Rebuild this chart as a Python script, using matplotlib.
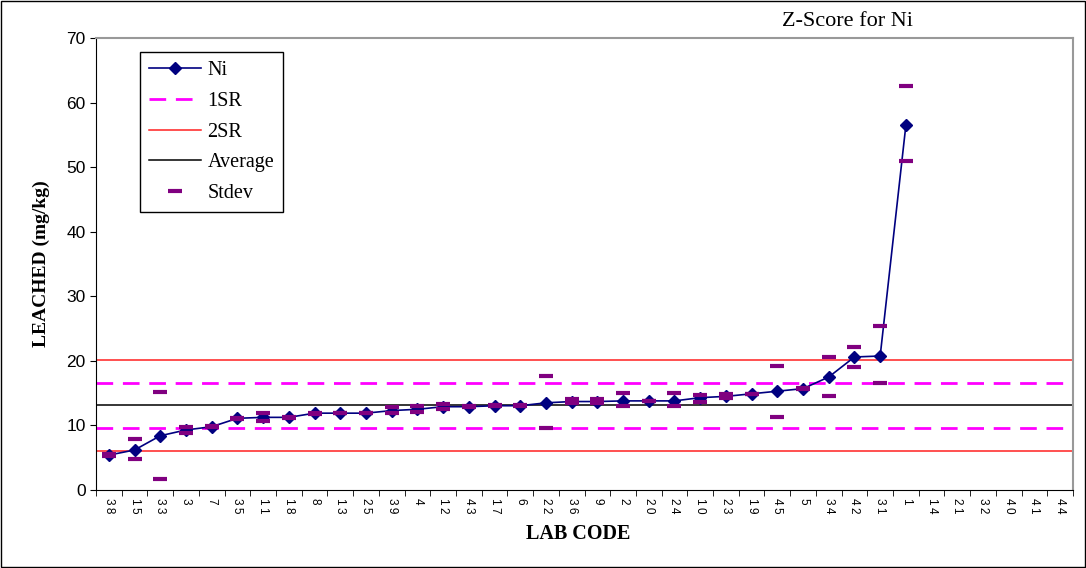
import numpy as np
import matplotlib
matplotlib.use("Agg")
import matplotlib.pyplot as plt
from matplotlib.patches import Rectangle

# lab codes in plotted order
labs = ['38', '15', '33', '3', '7', '35', '11', '18', '8', '13', '25', '39', '4', '12',
        '43', '17', '6', '22', '36', '9', '2', '20', '24', '10', '23', '19', '45', '5',
        '34', '42', '31', '1', '14', '21', '32', '40', '41', '44']

nan = np.nan
ni = [5.4, 6.2, 8.4, 9.3, 9.8, 11.1, 11.25, 11.25, 11.9, 11.9, 11.9, 12.3, 12.5, 12.9,
      12.9, 13.05, 13.05, 13.5, 13.7, 13.7, 13.8, 13.8, 13.8, 14.3, 14.5, 14.9, 15.3, 15.7,
      17.5, 20.6, 20.75, 56.5, nan, nan, nan, nan, nan, nan]

sd_upper = [5.6, 7.9, 15.2, 9.8, 9.9, 11.2, 11.9, 11.3, 12.0, 11.9, 11.9, 12.9, 13.05, 13.3,
            12.95, 13.15, 13.1, 17.65, 14.1, 14.1, 15.0, 13.8, 15.0, 14.75, 14.8, 14.9, 19.25, 15.8,
            20.65, 22.1, 25.35, 62.5, nan, nan, nan, nan, nan, nan]
sd_lower = [5.3, 4.85, 1.65, 8.9, 9.7, 11.0, 10.7, 11.2, 11.8, 11.9, 11.9, 11.9, 12.1, 12.5,
            12.85, 12.95, 13.0, 9.55, 13.4, 13.4, 12.95, 13.8, 12.95, 13.7, 14.2, 14.9, 11.35, 15.6,
            14.6, 19.05, 16.6, 50.95, nan, nan, nan, nan, nan, nan]

average = 13.1
sr1 = [9.55, 16.6]
sr2 = [6.0, 20.2]

serif = ['Liberation Serif', 'DejaVu Serif']
sans = ['Liberation Sans', 'DejaVu Sans']

fig = plt.figure(figsize=(10.86, 5.68), dpi=100)
ax = fig.add_axes([96/1086, 1-490/568, 977/1086, 452/568])

x = np.arange(len(labs))

ax.plot(x, ni, color='#000080', marker='D', markersize=6.5, linewidth=1.2, label='Ni', zorder=5)
ax.axhline(sr1[0], color='#FF00FF', linestyle=(0, (6, 3.5)), linewidth=2, label='1SR', zorder=2)
ax.axhline(sr1[1], color='#FF00FF', linestyle=(0, (6, 3.5)), linewidth=2, zorder=2)
ax.axhline(sr2[0], color='#FF2020', linewidth=1.1, label='2SR', zorder=2)
ax.axhline(sr2[1], color='#FF2020', linewidth=1.1, zorder=2)
ax.axhline(average, color='black', linewidth=1.1, label='Average', zorder=2)
ax.plot(x, sd_upper, linestyle='none', marker='_', markersize=9.5, markeredgewidth=3,
        color='#800080', label='Stdev', zorder=6)
ax.plot(x, sd_lower, linestyle='none', marker='_', markersize=9.5, markeredgewidth=3,
        color='#800080', zorder=6)

ax.set_xlim(-0.5, len(labs) - 0.5)
ax.set_ylim(0, 70)
ax.set_yticks(range(0, 71, 10))
for t in ax.get_yticklabels():
    t.set_fontfamily(sans)
    t.set_fontsize(12.5)

# spaced-out digits like the original's wide tracking
ax.set_xticks(x)
ax.set_xticklabels(['\u2009'.join(s) for s in labs], rotation=-90, fontsize=8.5, fontfamily=sans)
ax.set_xticks(np.arange(-0.5, len(labs), 1), minor=True)
ax.tick_params(axis='x', which='major', length=0, pad=6)
ax.tick_params(axis='x', which='minor', length=4, direction='out')
ax.tick_params(axis='y', length=4, direction='out')

ax.spines['top'].set_color('#999999')
ax.spines['right'].set_color('#999999')
ax.spines['top'].set_linewidth(1.5)
ax.spines['right'].set_linewidth(1.5)

ax.set_ylabel('LEACHED (mg/kg)', fontsize=14, fontweight='bold', fontfamily=serif, labelpad=12)
fig.text(578/1086, 1 - 534/568, 'LAB CODE', ha='center', va='center',
         fontsize=14.5, fontweight='bold', fontfamily=serif)
fig.text(848/1086, 1 - 22/568, 'Z-Score for Ni', ha='center', va='center',
         fontsize=16, fontfamily=serif)

leg = ax.legend(loc='upper left', bbox_to_anchor=(44/977, 438/452), borderaxespad=0,
                fancybox=False, edgecolor='black', framealpha=1,
                prop={'family': serif, 'size': 14.5}, handlelength=2.6, handletextpad=0.3,
                labelspacing=0.58, borderpad=0.45)
leg.get_frame().set_linewidth(1)

fig.patches.append(Rectangle((0.001, 0.002), 0.998, 0.996, transform=fig.transFigure,
                             fill=False, edgecolor='black', linewidth=1))

fig.savefig('out.png', dpi=100)
